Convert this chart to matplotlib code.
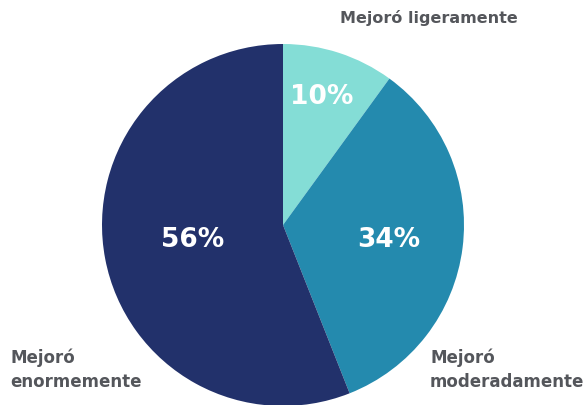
import matplotlib
matplotlib.use('Agg')
import matplotlib.pyplot as plt

# slices, clockwise from 12 o'clock
categories = ['Mejoró ligeramente', 'Mejoró moderadamente', 'Mejoró enormemente']
values = [10, 34, 56]
colors = ['#84ddd6', '#248aae', '#22316b']

W, H = 586, 406
fig = plt.figure(figsize=(W / 100, H / 100), dpi=100)
ax = fig.add_axes([0, 0, 1, 1])

cx, cy, r = 283, H - 226, 181
wedges, _ = ax.pie(values, colors=colors, startangle=90, counterclock=False,
                   center=(cx, cy), radius=r, frame=True)
ax.set_xlim(0, W)
ax.set_ylim(0, H)
ax.set_aspect('equal')
ax.axis('off')

# percentage labels inside the slices
pct_pos = [(322, H - 97), (389, H - 240), (193, H - 240)]
for v, (x, y) in zip(values, pct_pos):
    ax.text(x, y, f'{v}%', color='white', fontsize=19, fontweight='bold',
            ha='center', va='center')

grey = '#54565b'
ax.text(429, H - 18, 'Mejoró ligeramente', color=grey, fontsize=11.5, fontweight='bold',
        ha='center', va='center')
ax.text(430, H - 370, 'Mejoró\nmoderadamente', color=grey, fontsize=12, fontweight='bold',
        ha='left', va='center', linespacing=1.45)
ax.text(10, H - 370, 'Mejoró\nenormemente', color=grey, fontsize=12, fontweight='bold',
        ha='left', va='center', linespacing=1.45)

fig.savefig('out.png', dpi=100)
